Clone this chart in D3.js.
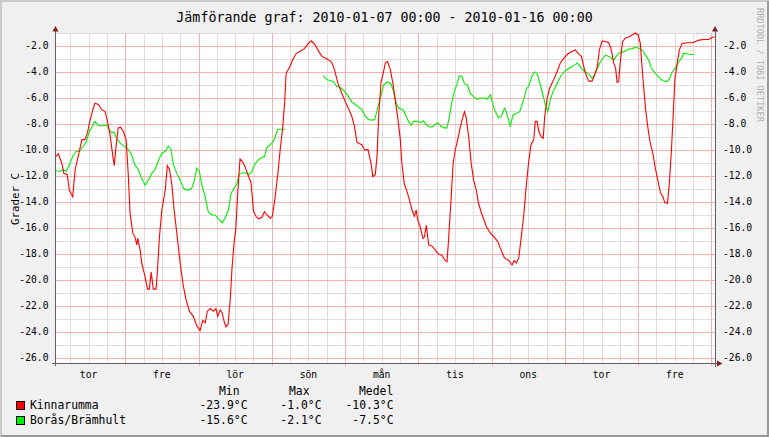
<!DOCTYPE html>
<html>
<head>
<meta charset="utf-8">
<script src="https://cdn.jsdelivr.net/npm/d3@7/dist/d3.min.js"></script>
<style>
  html, body { margin: 0; padding: 0; background: #fff; }
  svg text { font-family: 'DejaVu Sans Mono', monospace; fill: #000; }
</style>
</head>
<body>
<div id="chart"></div>
<script>
'use strict';

// hours since 2010-01-07 00:00
var redHours = [
  0, 0.3, 1.1, 2.2, 2.9, 4.0, 4.7, 5.8, 6.6, 7.6, 8.8, 9.8, 10.6, 11.5, 12.4, 13.1, 14.2,
  15.3, 16.4, 17.1, 18.0, 18.9, 19.4, 20.0, 20.7, 21.5, 22.4, 23.3, 24.0, 24.6, 25.5,
  26.2, 26.8, 27.1, 27.9, 28.4, 29.5, 30.3, 30.9, 31.5, 32.2, 33.1, 33.5, 34.2, 35.0,
  36.1, 36.8, 37.5, 38.3, 39.0, 39.9, 41.0, 41.9, 42.9, 44.0, 45.3, 46.4, 47.5, 48.4,
  49.2, 49.9, 50.8, 51.9, 52.7, 53.3, 54.1, 54.7, 55.4, 56.0, 56.7, 57.4, 58.0, 58.7,
  59.2, 59.9, 60.6, 61.4, 62.3, 63.4, 64.2, 65.0, 65.8, 66.6, 67.7, 68.6, 69.4, 70.5,
  71.2, 72.1, 73.0, 73.7, 74.6, 75.2, 75.7, 76.7, 77.8, 78.9, 80.3, 81.7, 82.8, 83.9,
  85.0, 86.1, 87.4, 89.1, 90.5, 91.5, 92.7, 93.7, 95.1, 96.1, 97.2, 98.1, 98.9, 99.6,
  100.5, 101.4, 102.5, 102.9, 103.6, 104.1, 104.9, 105.5, 106.0, 106.8, 107.6, 108.2,
  108.9, 109.8, 110.7, 111.4, 112.2, 113.1, 113.6, 114.4, 115.3, 116.1, 116.9, 117.7,
  118.3, 118.8, 119.6, 120.5, 121.0, 121.6, 122.4, 123.5, 124.6, 125.6, 126.7, 127.8,
  128.4, 128.9, 129.7, 130.4, 131.1, 131.9, 132.5, 133.3, 134.1, 134.7, 135.5, 136.3,
  137.1, 138.0, 138.7, 139.9, 141.3, 142.6, 143.9, 145.0, 146.1, 147.2, 148.6, 149.7,
  150.4, 151.1, 151.9, 152.6, 153.5, 154.4, 155.1, 155.9, 156.8, 157.3, 157.9, 158.4,
  159.2, 159.9, 160.4, 161.2, 162.0, 163.3, 164.4, 165.5, 166.6, 168.0, 169.4, 170.4,
  171.5, 172.4, 173.2, 173.9, 174.8, 175.9, 176.8, 177.6, 178.3, 179.2, 180.3, 181.4,
  182.2, 183.0, 183.6, 184.1, 184.6, 185.2, 185.9, 186.8, 187.9, 189.0, 190.1, 191.0,
  191.7, 192.5, 193.4, 194.3, 195.0, 195.8, 196.7, 197.5, 198.3, 199.1, 199.7, 200.6,
  201.2, 201.9, 202.5, 203.0, 203.8, 204.5, 205.4, 207.0, 208.7, 209.8, 210.9, 212.5,
  214.1, 215.2, 216.0
];
var redValues = [
  -10.6, -10.5, -10.3, -11.0, -11.8, -11.9, -13.1, -13.6, -11.5, -10.5, -9.2, -9.2, -8.7,
  -7.7, -6.9, -6.4, -6.5, -6.9, -7.05, -7.7, -8.8, -10.4, -11.2, -9.7, -8.3, -8.25, -8.6,
  -9.2, -11.9, -14.9, -16.4, -16.7, -17.3, -16.8, -17.7, -18.7, -19.75, -20.7, -20.7,
  -19.4, -20.7, -20.7, -19.5, -16.7, -14.6, -13.1, -11.2, -11.5, -12.7, -14.6, -16.4,
  -18.7, -20.3, -21.5, -22.4, -22.8, -23.5, -23.9, -23.1, -23.3, -22.4, -22.2, -22.4,
  -22.2, -22.8, -22.3, -22.5, -23.2, -23.6, -23.4, -21.5, -19.0, -17.0, -16.15, -13.1,
  -10.7, -10.9, -11.3, -12.05, -12.5, -14.7, -15.1, -15.3, -15.2, -14.75, -15.0, -15.25,
  -15.1, -13.6, -11.8, -10.1, -8.2, -6.4, -4.1, -3.7, -3.1, -2.6, -2.4, -2.2, -1.85,
  -1.6, -1.85, -2.3, -2.8, -3.0, -3.2, -3.8, -4.9, -5.5, -6.3, -6.8, -7.4, -8.2, -9.4,
  -9.5, -9.6, -10.0, -9.95, -10.4, -11.15, -12.05, -11.9, -10.4, -7.4, -4.75, -4.0,
  -3.3, -3.2, -3.8, -4.9, -6.15, -7.4, -9.2, -11.0, -12.6, -13.2, -13.85, -14.6, -15.1,
  -14.6, -15.4, -15.9, -16.8, -16.7, -15.8, -17.3, -17.4, -17.7, -18.0, -18.1, -18.5,
  -18.6, -16.9, -13.85, -11.0, -10.0, -9.2, -8.5, -7.7, -7.05, -7.55, -9.0, -11.0,
  -12.3, -13.1, -14.1, -15.0, -15.9, -16.4, -16.7, -17.05, -17.7, -18.3, -18.5, -18.85,
  -18.5, -18.7, -18.3, -16.9, -15.1, -12.6, -11.0, -9.6, -9.2, -7.8, -7.8, -8.5, -9.0,
  -9.1, -7.4, -6.0, -5.25, -4.6, -4.0, -3.3, -2.95, -2.6, -2.4, -2.3, -2.6, -2.8, -3.6,
  -4.2, -4.7, -4.7, -4.2, -3.6, -2.3, -1.6, -1.65, -1.75, -2.3, -3.3, -3.7, -4.8, -4.75,
  -3.1, -1.65, -1.4, -1.3, -1.15, -1.0, -1.15, -1.8, -4.35, -6.8, -8.5, -9.5, -10.25,
  -11.5, -12.4, -13.3, -13.6, -14.05, -14.1, -12.6, -10.0, -7.2, -4.6, -3.3, -2.3,
  -1.8, -1.75, -1.75, -1.65, -1.55, -1.5, -1.5, -1.35, -1.3
];

// null marks the missing stretch in the Borås series
var greenHours = [
  0, 0.3, 1.6, 2.7, 3.6, 4.7, 5.8, 6.9, 8.0, 9.1, 10.2, 11.2, 12.4, 13.1, 14.2, 15.6,
  16.9, 17.8, 18.6, 19.3, 20.2, 21.3, 22.6, 24.0, 25.1, 26.2, 27.3, 28.4, 29.5, 30.6,
  31.7, 32.8, 33.9, 35.0, 36.1, 37.1, 37.9, 38.8, 39.9, 41.0, 42.1, 43.4, 44.8, 45.7,
  46.4, 47.3, 48.1, 49.2, 50.2, 51.4, 52.4, 53.5, 54.8, 55.7, 56.8, 57.7, 58.8, 59.6,
  60.3, 61.4, 62.5, 63.4, 64.5, 65.3, 66.4, 67.5, 68.6, 69.4, 70.5, 71.6, 72.3, 73.0,
  74.1, 75.4, 80.0, 87.9, 89.1, 90.1, 91.2, 92.3, 93.4, 94.5, 95.9, 97.2, 98.9, 100.5,
  101.6, 102.7, 103.8, 104.7, 105.4, 106.2, 107.1, 107.6, 108.9, 110.0, 110.9, 111.8,
  112.6, 114.0, 115.0, 115.8, 116.6, 117.4, 118.8, 119.9, 120.7, 121.8, 122.9, 124.0,
  125.3, 126.4, 127.5, 128.4, 129.2, 130.0, 130.8, 131.7, 132.4, 133.3, 134.1, 135.1,
  136.0, 137.1, 138.2, 139.3, 140.4, 141.5, 142.6, 143.5, 144.2, 145.3, 146.1, 147.2,
  147.8, 148.6, 149.1, 150.0, 151.1, 152.2, 153.5, 154.4, 155.1, 156.2, 157.0, 157.9,
  158.7, 159.8, 160.6, 161.4, 162.2, 163.3, 164.4, 165.8, 167.4, 168.8, 170.2, 171.1,
  172.1, 172.9, 174.0, 175.0, 175.9, 177.0, 178.1, 179.2, 180.3, 181.4, 182.2, 183.0,
  183.8, 184.9, 186.3, 187.7, 189.0, 190.3, 191.4, 192.5, 193.4, 194.5, 195.3, 196.4,
  197.7, 199.0, 200.4, 201.2, 202.1, 203.2, 204.3, 205.2, 205.9, 207.0, 208.1, 209.2
];
var greenValues = [
  -11.6, -11.6, -11.65, -11.5, -11.65, -11.15, -10.5, -10.1, -10.1, -9.75, -9.4, -8.6,
  -8.1, -7.8, -8.1, -8.15, -8.1, -8.4, -8.7, -8.6, -9.1, -9.45, -9.7, -9.95, -10.4,
  -11.15, -11.5, -12.2, -12.7, -12.3, -11.8, -11.5, -10.8, -10.25, -10.1, -9.7, -9.9,
  -11.15, -11.8, -12.3, -12.95, -13.1, -12.95, -12.3, -11.4, -11.65, -12.7, -13.6,
  -14.75, -15.0, -15.0, -15.3, -15.6, -15.25, -14.6, -13.3, -12.9, -12.6, -11.85,
  -11.75, -11.75, -11.9, -11.65, -11.15, -10.8, -10.6, -10.5, -9.8, -9.6, -9.3, -8.85,
  -8.4, -8.4, -8.4, null, -4.3, -4.6, -4.65, -4.75, -5.1, -5.2, -5.4, -5.8, -6.3, -6.6,
  -6.9, -7.4, -7.65, -7.7, -7.65, -7.05, -6.3, -5.5, -5.0, -4.75, -4.9, -5.5, -6.4,
  -6.8, -6.9, -7.4, -7.8, -8.1, -7.8, -7.8, -7.9, -7.75, -8.1, -8.25, -8.15, -7.9,
  -8.15, -8.3, -8.3, -7.4, -6.3, -5.5, -4.9, -4.3, -4.35, -4.9, -5.0, -5.65, -5.9,
  -6.1, -6.0, -6.0, -6.1, -5.75, -6.55, -7.05, -7.5, -7.45, -6.8, -7.05, -7.7, -8.2,
  -7.3, -7.2, -7.05, -6.15, -5.3, -5.1, -4.35, -4.0, -4.1, -4.75, -5.75, -6.55, -7.05,
  -6.15, -5.4, -4.9, -4.25, -3.85, -3.65, -3.45, -3.3, -3.6, -3.85, -4.05, -4.2, -4.5,
  -4.1, -3.45, -3.0, -2.7, -2.8, -2.95, -3.1, -2.8, -2.5, -2.45, -2.25, -2.2, -2.1,
  -2.2, -2.35, -2.7, -3.1, -3.7, -4.05, -4.4, -4.65, -4.75, -4.55, -4.0, -3.7, -3.2,
  -2.95, -2.55, -2.6, -2.65, -2.65
];

var yTicks = [-26, -24, -22, -20, -18, -16, -14, -12, -10, -8, -6, -4, -2];
var dayLabels = ['tor', 'fre', 'lör', 'sön', 'mån', 'tis', 'ons', 'tor', 'fre'];

var seriesNames = ['Kinnarumma', 'Borås/Brämhult'];
var seriesColors = ['#ff0000', '#00ee00'];
var statHeaders = ['Min', 'Max', 'Medel'];
var statMin = ['-23.9°C', '-15.6°C'];
var statMax = ['-1.0°C', '-2.1°C'];
var statMean = ['-10.3°C', '-7.5°C'];

(function() {
  var width = 769,
      height = 437,
      plotLeft = 55,
      plotRight = 714.5,
      plotTop = 33,
      plotBottom = 363.3,
      baseY = Math.round(plotBottom) + 0.5;

  var svg = d3.select('#chart')
    .append('svg')
    .attr('width', width)
    .attr('height', height);

  // frame
  svg.append('rect').attr('width', width).attr('height', height).attr('fill', '#f0f0f0');
  svg.append('path').attr('d', 'M1,' + height + 'V1H' + width)
    .attr('fill', 'none').attr('stroke', '#cbcbcb').attr('stroke-width', 2);
  svg.append('path').attr('d', 'M1,' + (height - 1) + 'H' + (width - 1) + 'V1')
    .attr('fill', 'none').attr('stroke', '#999').attr('stroke-width', 2);

  var x = d3.scaleLinear().domain([0, 216]).range([plotLeft, plotRight]);
  var y = d3.scaleLinear().domain([-26.41, -1.0]).range([plotBottom, plotTop]);

  svg.append('rect')
    .attr('x', plotLeft).attr('y', plotTop)
    .attr('width', plotRight - plotLeft).attr('height', plotBottom - plotTop)
    .attr('fill', '#fff');

  var grid = svg.append('g').attr('shape-rendering', 'crispEdges');

  // grid sits an hour behind the data axis (local midnight)
  var minorX = d3.range(5, 216, 6),
      majorX = d3.range(23, 216, 24),
      minorY = d3.range(-26, 0, 1);

  var px = function( d ) { return Math.round(x(d)) + 0.5; },
      py = function( d ) { return Math.round(y(d)) + 0.5; };

  grid.selectAll('.vmin').data(minorX).enter().append('line')
    .attr('x1', px).attr('x2', px)
    .attr('y1', plotTop).attr('y2', plotBottom)
    .attr('stroke', '#dedede');

  grid.selectAll('.hmin').data(minorY).enter().append('line')
    .attr('x1', plotLeft).attr('x2', plotRight)
    .attr('y1', py).attr('y2', py)
    .attr('stroke', '#dedede');

  grid.selectAll('.vmaj').data(majorX).enter().append('line')
    .attr('x1', px).attr('x2', px)
    .attr('y1', plotTop).attr('y2', plotBottom + 3)
    .attr('stroke', '#f5b0b0');

  grid.selectAll('.hmaj').data(yTicks).enter().append('line')
    .attr('x1', plotLeft).attr('x2', plotRight)
    .attr('y1', py).attr('y2', py)
    .attr('stroke', '#f5b0b0');

  // series
  var line = d3.line()
    .defined(function( d ) { return d[1] !== null; })
    .x(function( d ) { return x(d[0]); })
    .y(function( d ) { return y(d[1]); });

  svg.append('path')
    .datum(d3.zip(greenHours, greenValues))
    .attr('d', line)
    .attr('fill', 'none')
    .attr('stroke', seriesColors[1])
    .attr('stroke-width', 1.1);

  svg.append('path')
    .datum(d3.zip(redHours, redValues))
    .attr('d', line)
    .attr('fill', 'none')
    .attr('stroke', seriesColors[0])
    .attr('stroke-width', 1.1);

  // axes
  var axisColor = '#606060',
      arrowColor = '#7f1f1f';

  var axes = svg.append('g').attr('shape-rendering', 'crispEdges');
  axes.append('line').attr('x1', plotLeft + 0.5).attr('x2', plotLeft + 0.5)
    .attr('y1', 29).attr('y2', plotBottom + 3).attr('stroke', axisColor);
  axes.append('line').attr('x1', plotRight + 0.5).attr('x2', plotRight + 0.5)
    .attr('y1', 29).attr('y2', plotBottom + 4).attr('stroke', axisColor);
  axes.append('line').attr('x1', plotLeft - 3).attr('x2', plotRight + 4)
    .attr('y1', baseY).attr('y2', baseY)
    .attr('stroke', axisColor);

  [plotLeft + 0.5, plotRight + 0.5].forEach(function( ax ) {
    svg.append('path')
      .attr('d', 'M' + ax + ',26L' + (ax + 3) + ',31.5L' + (ax - 3) + ',31.5Z')
      .attr('fill', arrowColor);
  });
  svg.append('path')
    .attr('d', 'M' + (plotRight + 8) + ',' + baseY +
      'L' + (plotRight + 2.5) + ',' + (baseY - 3) +
      'L' + (plotRight + 2.5) + ',' + (baseY + 3) + 'Z')
    .attr('fill', arrowColor);

  // tick labels
  svg.selectAll('.yl').data(yTicks).enter().append('text')
    .attr('x', 48.5)
    .attr('y', function( d ) { return y(d) + 3.4; })
    .attr('text-anchor', 'end')
    .style('font-size', '9.7px')
    .text(function( d ) { return d.toFixed(1); });

  svg.selectAll('.yr').data(yTicks).enter().append('text')
    .attr('x', 723)
    .attr('y', function( d ) { return y(d) + 3.4; })
    .style('font-size', '9.7px')
    .text(function( d ) { return d.toFixed(1); });

  svg.selectAll('.xl').data(dayLabels).enter().append('text')
    .attr('x', function( d, i ) { return x(11 + i * 24); })
    .attr('y', 378)
    .attr('text-anchor', 'middle')
    .style('font-size', '9.7px')
    .text(function( d ) { return d; });

  // titles
  svg.append('text')
    .attr('x', width / 2).attr('y', 21.5)
    .attr('text-anchor', 'middle')
    .style('font-size', '13.3px')
    .text('Jämförande graf: 2010-01-07 00:00 - 2010-01-16 00:00');

  svg.append('text')
    .attr('transform', 'translate(19,199) rotate(-90)')
    .attr('text-anchor', 'middle')
    .style('font-size', '10.8px')
    .text('Grader C');

  svg.append('text')
    .attr('transform', 'translate(756.5,8) rotate(90)')
    .style('font-size', '8.6px')
    .style('fill', '#b0b0b0')
    .text('RRDTOOL / TOBI OETIKER');

  // legend
  var legendFont = '11.4px',
      headerX = [219, 289, 359],
      colEnd = [247.5, 321.5, 393.5],
      rowY = [409, 423.5];

  svg.selectAll('.lh').data(statHeaders).enter().append('text')
    .attr('x', function( d, i ) { return headerX[i]; })
    .attr('y', 395)
    .style('font-size', legendFont)
    .text(function( d ) { return d; });

  seriesNames.forEach(function( name, i ) {
    svg.append('rect')
      .attr('x', 16.5).attr('y', rowY[i] - 7.5)
      .attr('width', 8).attr('height', 8)
      .attr('fill', seriesColors[i])
      .attr('stroke', '#000')
      .attr('shape-rendering', 'crispEdges');

    svg.append('text')
      .attr('x', 30).attr('y', rowY[i])
      .style('font-size', legendFont)
      .text(name);

    [statMin[i], statMax[i], statMean[i]].forEach(function( s, j ) {
      svg.append('text')
        .attr('x', colEnd[j]).attr('y', rowY[i])
        .attr('text-anchor', 'end')
        .style('font-size', legendFont)
        .text(s);
    });
  });
})();
</script>
</body>
</html>
